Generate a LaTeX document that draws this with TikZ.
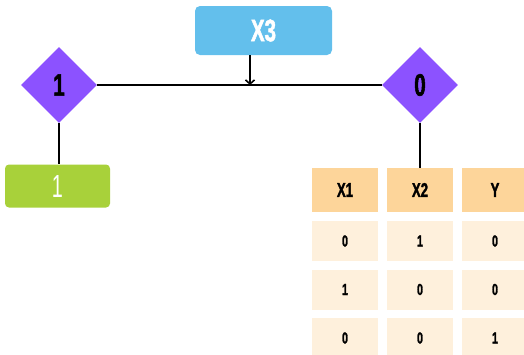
\documentclass[tikz,border=0pt]{standalone}
\usepackage{fontspec}
\setmainfont{Liberation Sans}
\newfontfamily\condbold{Liberation Sans Bold}[FakeStretch=0.66,FakeBold=1.6]
\newfontfamily\condplain{Liberation Sans}[FakeStretch=0.62]
\usetikzlibrary{shapes.geometric,arrows.meta}
\definecolor{skyblue}{HTML}{63BFEC}
\definecolor{leafgreen}{HTML}{A8D13A}
\definecolor{splitviolet}{HTML}{8C52FF}
\definecolor{headorange}{HTML}{FDD59A}
\definecolor{cellcream}{HTML}{FEF0DC}

\begin{document}
\begin{tikzpicture}[x=1pt,y=-1pt,
	test/.style={diamond, fill=splitviolet, minimum size=76pt, inner sep=0pt,
		font=\condbold\fontsize{31}{31}\selectfont},
	root/.style={rectangle, rounded corners=5pt, fill=skyblue, text=white,
		minimum width=137pt, minimum height=49pt, inner sep=0pt,
		font=\condbold\fontsize{31}{31}\selectfont},
	leaf/.style={rectangle, rounded corners=4pt, fill=leafgreen, text=white,
		minimum width=105pt, minimum height=43pt, inner sep=0pt,
		font=\condplain\fontsize{32}{32}\selectfont},
	headcell/.style={rectangle, fill=headorange, minimum width=66pt, minimum height=44pt,
		inner sep=0pt, font=\condbold\fontsize{20}{20}\selectfont},
	cell/.style={rectangle, fill=cellcream, minimum width=66pt, minimum height=40pt,
		inner sep=0pt, font=\condbold\fontsize{16}{16}\selectfont},
	link/.style={line width=1.6pt}]
	\useasboundingbox (0,0) rectangle (524,354);
	\node[root] (x3) at (263.5,30.5) {X3};
	\node[test] (left) at (59,85) {1};
	\node[test] (right) at (420,85) {0};
	\node[leaf] (leaf) at (57.5,186) {1};
	% table under the 0 branch
	\node[headcell] (x1h) at (345,190) {X1};
	\node[headcell] (x2h) at (420,190) {X2};
	\node[headcell] (yh) at (495,190) {Y};
	\foreach \a/\b/\c/\y [count=\r] in {0/1/0/241, 1/0/0/289.5, 0/0/1/338}{
		\node[cell] (a\r) at (345,\y) {\a};
		\node[cell] (b\r) at (420,\y) {\b};
		\node[cell] (c\r) at (495,\y) {\c};
	}
	\coordinate (hit) at (250,85);
	\draw[link] (left) -- (right);
	\draw[link,-{Straight Barb[length=4pt,width=9pt]}] (x3.south -| hit) -- (hit);
	\draw[link] (left) -- (left |- leaf.north);
	\draw[link] (right) -- (x2h);
\end{tikzpicture}
\end{document}
